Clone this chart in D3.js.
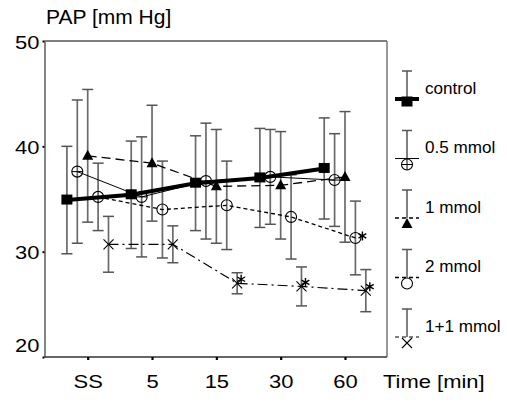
<!DOCTYPE html>
<html>
<head>
<meta charset="utf-8">
<script src="https://cdn.jsdelivr.net/npm/d3@7"></script>
<style>
body { margin: 0; background: #fff; }
svg { display: block; font-family: "Liberation Sans", Arial, sans-serif; }
</style>
</head>
<body>
<script>
// values (mean and SD, mm Hg)
const timeLabels = ['SS', '5', '15', '30', '60'];
const seriesNames = ['control', '0.5 mmol', '1 mmol', '2 mmol', '1+1 mmol'];
const controlMean = [34.9, 35.4, 36.5, 37.0, 37.9];
const controlSD = [5.1, 5.1, 4.5, 4.7, 4.8];
const mmol05Mean = [37.6, 35.2, 36.7, 37.1, 36.8];
const mmol05SD = [6.8, 5.7, 5.5, 4.5, 4.4];
const mmol1Mean = [39.1, 38.4, 36.2, 36.3, 37.1];
const mmol1SD = [6.3, 5.5, 5.4, 5.1, 6.2];
const mmol2Mean = [35.2, 34.0, 34.4, 33.3, 31.3];
const mmol2SD = [3.2, 4.6, 4.2, 4.0, 3.5];
const mmol11Mean = [30.7, 30.7, 27.0, 26.7, 26.3];
const mmol11SD = [2.65, 1.75, 1.0, 1.85, 2.0];
// significance stars
const mmol2Sig = [false, false, false, false, true];
const mmol11Sig = [false, false, true, true, true];
const yTicks = [20, 30, 40, 50];

const W = 507, H = 403;
const plot = {left: 44.5, right: 387, top: 41, bottom: 357};

const series = [
  {name: seriesNames[0], mean: controlMean, sd: controlSD, sig: null, marker: 'square', width: 4, dash: null},
  {name: seriesNames[1], mean: mmol05Mean, sd: mmol05SD, sig: null, marker: 'circlebar', width: 1, dash: null},
  {name: seriesNames[2], mean: mmol1Mean, sd: mmol1SD, sig: null, marker: 'triangle', width: 1.3, dash: '9,5'},
  {name: seriesNames[3], mean: mmol2Mean, sd: mmol2SD, sig: mmol2Sig, marker: 'circle', width: 1.3, dash: '4,3'},
  {name: seriesNames[4], mean: mmol11Mean, sd: mmol11SD, sig: mmol11Sig, marker: 'cross', width: 1.2, dash: '10,4,2,4'}
];

const svg = d3.select('body').append('svg')
  .attr('width', W)
  .attr('height', H);

const x = d3.scalePoint().domain(timeLabels).range([87.7, 345]);
const offset = d3.scaleBand().domain(seriesNames).range([-26, 26]);
const y = d3.scaleLinear().domain([20, 50]).range([plot.bottom, plot.top]);

function px(name, t) {
  return x(t) + offset(name) + offset.bandwidth() / 2;
}

// frame
svg.append('line').attr('x1', plot.left).attr('x2', plot.right)
  .attr('y1', plot.top).attr('y2', plot.top)
  .attr('stroke', '#000').attr('stroke-width', 1.2);
svg.append('line').attr('x1', plot.right).attr('x2', plot.right)
  .attr('y1', plot.top).attr('y2', plot.bottom)
  .attr('stroke', '#777').attr('stroke-width', 1.5);

// axes
const yAxis = svg.append('g')
  .attr('transform', `translate(${plot.left},0)`)
  .call(d3.axisLeft(y).tickValues(yTicks).tickSize(2).tickSizeOuter(0));
yAxis.select('.domain').attr('stroke', '#666').attr('stroke-width', 1.6);
yAxis.selectAll('.tick line').attr('stroke', '#000').attr('stroke-width', 2);
yAxis.selectAll('.tick text')
  .attr('x', null).attr('dy', null)
  .attr('fill', '#000')
  .style('font-size', '18px')
  .attr('text-anchor', 'end')
  .attr('transform', d => `translate(-5,${d === 20 ? -5.5 : 7}) scale(1.22,1)`);

const xAxis = svg.append('g')
  .attr('transform', `translate(0,${plot.bottom})`)
  .call(d3.axisBottom(x).tickSize(3).tickSizeOuter(0));
xAxis.select('.domain').attr('stroke', '#333').attr('stroke-width', 1.5)
  .attr('d', `M${plot.left},0H${plot.right}`);
xAxis.selectAll('.tick line').attr('stroke', '#000').attr('stroke-width', 2.2);
xAxis.selectAll('.tick text')
  .attr('y', null).attr('dy', null)
  .attr('fill', '#000')
  .style('font-size', '18px')
  .attr('transform', 'translate(0,30.5) scale(1.22,1)');

svg.append('text')
  .attr('transform', `translate(383,${plot.bottom + 30.5}) scale(1.22,1)`)
  .style('font-size', '18px')
  .text('Time [min]');

svg.append('text')
  .attr('x', 46).attr('y', 23.5)
  .style('font-size', '21px')
  .text('PAP [mm Hg]');

// markers
function drawMarker(g, type) {
  if (type === 'square') {
    g.append('rect').attr('x', -5.5).attr('y', -5.5).attr('width', 11).attr('height', 10)
      .attr('fill', '#000');
  } else if (type === 'triangle') {
    g.append('path').attr('d', 'M0,-6L5.5,4L-5.5,4Z').attr('fill', '#000');
  } else if (type === 'circle' || type === 'circlebar') {
    g.append('circle').attr('r', 5.5).attr('fill', 'none')
      .attr('stroke', '#000').attr('stroke-width', 1.1);
    if (type === 'circlebar') {
      g.append('line').attr('x1', -5.5).attr('x2', 5.5)
        .attr('stroke', '#000').attr('stroke-width', 1);
    }
  } else if (type === 'cross') {
    g.append('path').attr('d', 'M-5,-5L5,5M-5,5L5,-5')
      .attr('stroke', '#000').attr('stroke-width', 1.1);
  }
}

function drawStar(g, cx, cy) {
  const r = 4.5;
  const d = d3.range(3).map(i => {
    const a = Math.PI / 2 + i * Math.PI / 3;
    return `M${cx - r * Math.cos(a)},${cy - r * Math.sin(a)}L${cx + r * Math.cos(a)},${cy + r * Math.sin(a)}`;
  }).join('');
  g.append('path').attr('d', d).attr('stroke', '#000').attr('stroke-width', 1.4);
}

// error bars
const bars = svg.append('g');
series.forEach(s => {
  timeLabels.forEach((t, i) => {
    const cx = px(s.name, t);
    const hi = y(s.mean[i] + s.sd[i]);
    const lo = y(s.mean[i] - s.sd[i]);
    bars.append('line').attr('x1', cx).attr('x2', cx).attr('y1', hi).attr('y2', lo)
      .attr('stroke', '#6a6a6a').attr('stroke-width', 1.7);
    [hi, lo].forEach(v => {
      bars.append('line').attr('x1', cx - 5.5).attr('x2', cx + 5.5).attr('y1', v).attr('y2', v)
        .attr('stroke', '#555').attr('stroke-width', 1.5);
    });
  });
});

// lines, drawn so the thick control line sits on top
const lineGen = d3.line()
  .x(d => d[0])
  .y(d => d[1]);
series.slice().reverse().forEach(s => {
  const pts = timeLabels.map((t, i) => [px(s.name, t), y(s.mean[i])]);
  svg.append('path')
    .attr('d', lineGen(pts))
    .attr('fill', 'none')
    .attr('stroke', '#000')
    .attr('stroke-width', s.width)
    .attr('stroke-dasharray', s.dash);
});

// points and stars
series.forEach(s => {
  timeLabels.forEach((t, i) => {
    const cx = px(s.name, t), cy = y(s.mean[i]);
    const g = svg.append('g').attr('transform', `translate(${cx},${cy})`);
    drawMarker(g, s.marker);
    if (s.sig && s.sig[i]) {
      if (s.marker === 'cross') drawStar(svg, cx + 4, cy - 4);
      else drawStar(svg, cx + 7, cy - 2);
    }
  });
});

// legend
const legendY = d3.scalePoint().domain(seriesNames).range([99, 337]);
const legend = svg.append('g');
series.forEach(s => {
  const ly = legendY(s.name);
  const bx = 407;
  legend.append('line').attr('x1', bx).attr('x2', bx).attr('y1', ly - 28).attr('y2', ly)
    .attr('stroke', '#6a6a6a').attr('stroke-width', 1.7);
  legend.append('line').attr('x1', bx - 5).attr('x2', bx + 5).attr('y1', ly - 28).attr('y2', ly - 28)
    .attr('stroke', '#555').attr('stroke-width', 1.5);
  legend.append('line').attr('x1', 395).attr('x2', 419).attr('y1', ly).attr('y2', ly)
    .attr('stroke', '#000').attr('stroke-width', s.width)
    .attr('stroke-dasharray', s.dash ? '4,3' : null);
  const g = legend.append('g')
    .attr('transform', `translate(${bx},${ly + (s.marker === 'square' ? 3 : 6)})`);
  drawMarker(g, s.marker);
  if (s.marker === 'circlebar') {
    g.append('line').attr('y1', -5.5).attr('y2', 5.5).attr('stroke', '#000').attr('stroke-width', 1);
  }
  legend.append('text')
    .attr('transform', `translate(425,${ly - 5.3}) scale(1.07,1)`)
    .style('font-size', '16px')
    .text(s.name);
});
</script>
</body>
</html>
